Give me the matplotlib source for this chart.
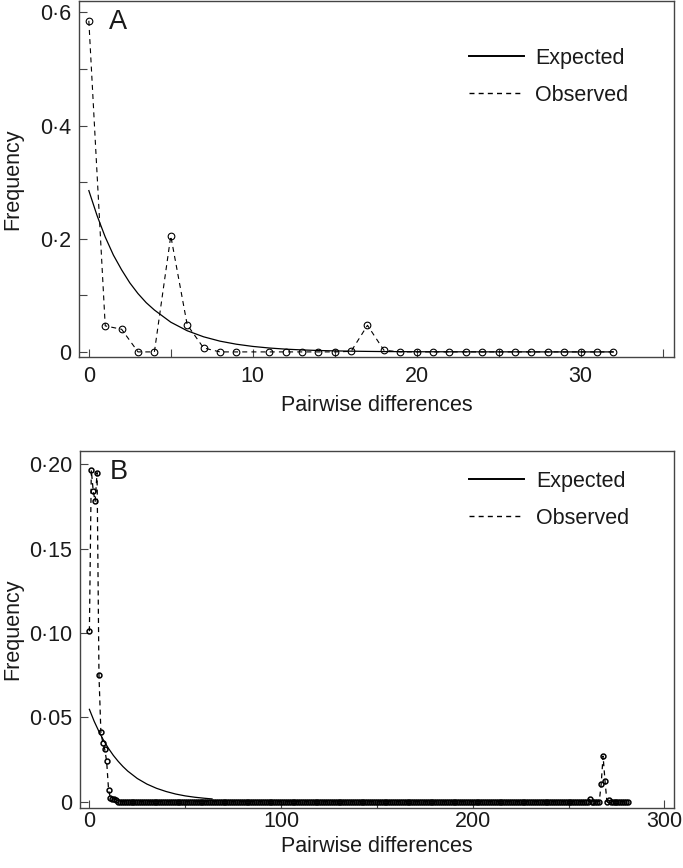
import matplotlib
matplotlib.use("Agg")
import matplotlib.pyplot as plt
from matplotlib.ticker import FixedLocator, FixedFormatter

plt.rcParams['font.family'] = ['Liberation Sans', 'DejaVu Sans']
plt.rcParams['lines.scale_dashes'] = False

# ---------------- Data: panel A ----------------
obs_A_x = [0, 1, 2, 3, 4, 5, 6, 7, 8, 9, 11, 12, 13, 14, 15, 16, 17, 18, 19, 20,
           21, 22, 23, 24, 25, 26, 27, 28, 29, 30, 31, 32]
obs_A_y = [0.585, 0.046, 0.040, 0.0, 0.0, 0.205, 0.048, 0.007, 0.0, 0.0, 0.0, 0.0,
           0.0, 0.0, 0.0, 0.001, 0.047, 0.003, 0.0, 0.0, 0.0, 0.0, 0.0, 0.0, 0.0,
           0.0, 0.0, 0.0, 0.0, 0.0, 0.0, 0.0]
exp_A_x = [0, 0.5, 1, 1.5, 2, 2.5, 3, 3.5, 4, 5, 6, 7, 8, 9, 10, 11, 12, 13, 14,
           15, 16, 17, 18, 19, 20, 22, 24, 26, 28, 30, 32]
exp_A_y = [0.285, 0.241, 0.203, 0.171, 0.145, 0.122, 0.103, 0.087, 0.074, 0.0525,
           0.0374, 0.0267, 0.0190, 0.0136, 0.0097, 0.0069, 0.0049, 0.0035, 0.0025,
           0.0018, 0.0013, 0.0009, 0.0006, 0.0005, 0.0003, 0.0002, 0.0001, 0.0001,
           0.0, 0.0, 0.0]

# ---------------- Data: panel B ----------------
obs_B_head = [0.101, 0.1965, 0.184, 0.178, 0.195, 0.075, 0.041, 0.035, 0.031,
              0.024, 0.007, 0.002, 0.0016, 0.0016, 0.001]          # x = 0..14
obs_B_mid = [0.0] * (261 - 15)                                       # x = 15..260
obs_B_peak = [0.0014, 0.0, 0.0, 0.0, 0.0, 0.0, 0.0103, 0.027, 0.0124, 0.0, 0.001]  # x = 261..271
obs_B_tail = [0.0] * (282 - 272)                                     # x = 272..281
obs_B_y = obs_B_head + obs_B_mid + obs_B_peak + obs_B_tail
obs_B_x = list(range(len(obs_B_y)))

exp_B_x = [0, 2.5, 5, 7.5, 10, 12.5, 15, 17.5, 20, 25, 30, 35, 40, 45, 50, 55, 60, 64]
exp_B_y = [0.0547, 0.0476, 0.0415, 0.0361, 0.0315, 0.0274, 0.0239, 0.0208, 0.0181,
           0.0137, 0.0104, 0.0079, 0.0060, 0.0045, 0.0034, 0.0026, 0.0020, 0.0016]

# ---------------- Ticks ----------------
A_xticks = [0, 10, 20, 30]
A_xticklabels = ['0', '10', '20', '30']
A_xminor = [5, 15, 25, 35]
A_yticks = [0, 0.2, 0.4, 0.6]
A_yticklabels = ['0', '0·2', '0·4', '0·6']
A_yminor = [0.1, 0.3, 0.5]

B_xticks = [0, 100, 200, 300]
B_xticklabels = ['0', '100', '200', '300']
B_xminor = [50, 150, 250]
B_yticks = [0, 0.05, 0.10, 0.15, 0.20]
B_yticklabels = ['0', '0·05', '0·10', '0·15', '0·20']

FS = 15.5
SPINE = '#444444'
TXT = '#1a1a1a'
DASH = (0, (3.6, 3.0))

fig = plt.figure(figsize=(6.83, 8.68), dpi=100)
axA = fig.add_axes([79/683, 1 - 357/868, 595/683, 356/868])
axB = fig.add_axes([80/683, 1 - 807.7/868, 594/683, 357/868])


def style(ax, xt, xtl, xm, yt, ytl, ym, xpad, ypad):
    for s in ax.spines.values():
        s.set_color(SPINE)
        s.set_linewidth(1.0)
    ax.xaxis.set_major_locator(FixedLocator(xt))
    ax.xaxis.set_major_formatter(FixedFormatter(xtl))
    ax.xaxis.set_minor_locator(FixedLocator(xm))
    ax.yaxis.set_major_locator(FixedLocator(yt))
    ax.yaxis.set_major_formatter(FixedFormatter(ytl))
    ax.yaxis.set_minor_locator(FixedLocator(ym))
    ax.tick_params(which='both', direction='in', length=5.8, width=0.8,
                   color=SPINE, labelsize=FS, labelcolor=TXT,
                   top=False, right=False)
    ax.tick_params(axis='x', which='major', pad=xpad)
    ax.tick_params(axis='y', which='major', pad=ypad)


# ---------------- Panel A ----------------
axA.plot(exp_A_x, exp_A_y, color='black', lw=0.9, zorder=3)
axA.plot(obs_A_x, obs_A_y, color='black', lw=0.8, linestyle=DASH,
         marker='o', markersize=4.8, markerfacecolor='none',
         markeredgewidth=0.8, markeredgecolor='black', zorder=4)
axA.set_xlim(-0.6, 35.7)
axA.set_ylim(-0.009, 0.62)
style(axA, A_xticks, A_xticklabels, A_xminor, A_yticks, A_yticklabels, A_yminor,
      xpad=6.5, ypad=5.8)
axA.set_xlabel('Pairwise differences', fontsize=FS, color=TXT)
axA.set_ylabel('Frequency', fontsize=FS, color=TXT)
axA.xaxis.set_label_coords(0.5, -0.108)
axA.yaxis.set_label_coords(-0.093, 0.5)
axA.text(0.066, 0.94, 'A', transform=axA.transAxes, fontsize=FS + 4,
         ha='center', va='center', color=TXT)
hA = [plt.Line2D([], [], color='black', lw=1.4),
      plt.Line2D([], [], color='black', lw=1.0, linestyle=DASH)]
axA.legend(hA, ['Expected', 'Observed'], loc='upper left',
           bbox_to_anchor=(0.655, 0.869), frameon=False, fontsize=FS,
           handlelength=2.55, handletextpad=0.55, labelspacing=0.74,
           borderaxespad=0, borderpad=0, labelcolor=TXT)

# ---------------- Panel B ----------------
axB.plot(exp_B_x, exp_B_y, color='black', lw=0.9, zorder=3)
axB.plot(obs_B_x, obs_B_y, color='black', lw=0.9, linestyle=DASH,
         marker='o', markersize=3.5, markerfacecolor='none',
         markeredgewidth=1.1, markeredgecolor='black', zorder=4)
axB.set_xlim(-4.9, 305)
axB.set_ylim(-0.0036, 0.208)
style(axB, B_xticks, B_xticklabels, B_xminor, B_yticks, B_yticklabels, [],
      xpad=2.5, ypad=5.8)
axB.set_xlabel('Pairwise differences', fontsize=FS, color=TXT)
axB.set_ylabel('Frequency', fontsize=FS, color=TXT)
axB.xaxis.set_label_coords(0.5, -0.079)
axB.yaxis.set_label_coords(-0.095, 0.5)
axB.text(0.066, 0.94, 'B', transform=axB.transAxes, fontsize=FS + 4,
         ha='center', va='center', color=TXT)
hB = [plt.Line2D([], [], color='black', lw=1.4),
      plt.Line2D([], [], color='black', lw=1.0, linestyle=DASH)]
axB.legend(hB, ['Expected', 'Observed'], loc='upper left',
           bbox_to_anchor=(0.655, 0.944), frameon=False, fontsize=FS,
           handlelength=2.55, handletextpad=0.55, labelspacing=0.74,
           borderaxespad=0, borderpad=0, labelcolor=TXT)

fig.savefig('out.png', dpi=100)
